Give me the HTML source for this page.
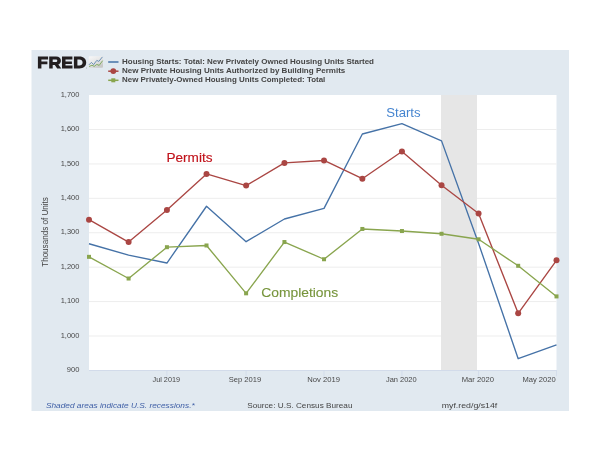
<!DOCTYPE html>
<html><head><meta charset="utf-8"><title>FRED Housing</title>
<style>
html,body{margin:0;padding:0;background:#fff;}
body{width:600px;height:450px;overflow:hidden;font-family:"Liberation Sans",sans-serif;}
svg{display:block;will-change:transform;transform:translateZ(0);}
text{font-family:"Liberation Sans",sans-serif;}
</style></head><body>
<svg width="600" height="450" viewBox="0 0 600 450">
<defs>
<linearGradient id="ig" x1="0" y1="0" x2="0.6" y2="1">
<stop offset="0" stop-color="#f8f8f8"/><stop offset="0.55" stop-color="#e6e6e6"/><stop offset="1" stop-color="#c8c8c8"/>
</linearGradient>
</defs>
<rect x="0" y="0" width="600" height="450" fill="#ffffff"/>
<rect x="31.5" y="50" width="537.5" height="361" fill="#e1e9f0"/>
<rect x="89" y="95" width="467.5" height="275.2" fill="#ffffff"/>

<line x1="89" x2="556.5" y1="335.99" y2="335.99" stroke="#ededed" stroke-width="1"/>
<line x1="89" x2="556.5" y1="301.57" y2="301.57" stroke="#ededed" stroke-width="1"/>
<line x1="89" x2="556.5" y1="267.16" y2="267.16" stroke="#ededed" stroke-width="1"/>
<line x1="89" x2="556.5" y1="232.75" y2="232.75" stroke="#ededed" stroke-width="1"/>
<line x1="89" x2="556.5" y1="198.34" y2="198.34" stroke="#ededed" stroke-width="1"/>
<line x1="89" x2="556.5" y1="163.93" y2="163.93" stroke="#ededed" stroke-width="1"/>
<line x1="89" x2="556.5" y1="129.51" y2="129.51" stroke="#ededed" stroke-width="1"/>
<rect x="441" y="95" width="36" height="275.3" fill="#e6e6e6"/>
<line x1="89" x2="556.5" y1="370.5" y2="370.5" stroke="#d2dbea" stroke-width="1"/>
<line x1="166.92" x2="166.92" y1="370" y2="376.2" stroke="#d0daea" stroke-width="0.8"/>
<line x1="246.11" x2="246.11" y1="370" y2="376.2" stroke="#d0daea" stroke-width="0.8"/>
<line x1="324.03" x2="324.03" y1="370" y2="376.2" stroke="#d0daea" stroke-width="0.8"/>
<line x1="401.94" x2="401.94" y1="370" y2="376.2" stroke="#d0daea" stroke-width="0.8"/>
<line x1="478.58" x2="478.58" y1="370" y2="376.2" stroke="#d0daea" stroke-width="0.8"/>
<line x1="556.50" x2="556.50" y1="370" y2="376.2" stroke="#d0daea" stroke-width="0.8"/>
<path d="M89.00 243.76 L128.60 255.12 L166.92 263.03 L206.51 206.25 L246.11 241.70 L284.43 218.98 L324.03 208.32 L362.35 133.99 L401.94 123.66 L441.54 140.87 L478.58 243.42 L518.18 358.70 L556.50 344.93" fill="none" stroke="#4572a7" stroke-width="1.35" stroke-linejoin="round"/>
<path d="M89.00 219.67 L128.60 242.04 L166.92 210.04 L206.51 173.90 L246.11 185.60 L284.43 162.89 L324.03 160.48 L362.35 178.72 L401.94 151.54 L441.54 185.26 L478.58 213.48 L518.18 313.28 L556.50 260.28" fill="none" stroke="#aa4643" stroke-width="1.35" stroke-linejoin="round"/>
<circle cx="89.00" cy="219.67" r="3.0" fill="#aa4643"/>
<circle cx="128.60" cy="242.04" r="3.0" fill="#aa4643"/>
<circle cx="166.92" cy="210.04" r="3.0" fill="#aa4643"/>
<circle cx="206.51" cy="173.90" r="3.0" fill="#aa4643"/>
<circle cx="246.11" cy="185.60" r="3.0" fill="#aa4643"/>
<circle cx="284.43" cy="162.89" r="3.0" fill="#aa4643"/>
<circle cx="324.03" cy="160.48" r="3.0" fill="#aa4643"/>
<circle cx="362.35" cy="178.72" r="3.0" fill="#aa4643"/>
<circle cx="401.94" cy="151.54" r="3.0" fill="#aa4643"/>
<circle cx="441.54" cy="185.26" r="3.0" fill="#aa4643"/>
<circle cx="478.58" cy="213.48" r="3.0" fill="#aa4643"/>
<circle cx="518.18" cy="313.28" r="3.0" fill="#aa4643"/>
<circle cx="556.50" cy="260.28" r="3.0" fill="#aa4643"/>
<path d="M89.00 256.84 L128.60 278.52 L166.92 247.20 L206.51 245.48 L246.11 293.32 L284.43 242.04 L324.03 259.25 L362.35 228.96 L401.94 231.03 L441.54 233.78 L478.58 239.29 L518.18 265.79 L556.50 296.41" fill="none" stroke="#89a54e" stroke-width="1.35" stroke-linejoin="round"/>
<rect x="87.00" y="254.84" width="4" height="4" fill="#89a54e"/>
<rect x="126.60" y="276.52" width="4" height="4" fill="#89a54e"/>
<rect x="164.92" y="245.20" width="4" height="4" fill="#89a54e"/>
<rect x="204.51" y="243.48" width="4" height="4" fill="#89a54e"/>
<rect x="244.11" y="291.32" width="4" height="4" fill="#89a54e"/>
<rect x="282.43" y="240.04" width="4" height="4" fill="#89a54e"/>
<rect x="322.03" y="257.25" width="4" height="4" fill="#89a54e"/>
<rect x="360.35" y="226.96" width="4" height="4" fill="#89a54e"/>
<rect x="399.94" y="229.03" width="4" height="4" fill="#89a54e"/>
<rect x="439.54" y="231.78" width="4" height="4" fill="#89a54e"/>
<rect x="476.58" y="237.29" width="4" height="4" fill="#89a54e"/>
<rect x="516.18" y="263.79" width="4" height="4" fill="#89a54e"/>
<rect x="554.50" y="294.41" width="4" height="4" fill="#89a54e"/>
<text x="79.4" y="372.10" text-anchor="end" font-size="7.6" fill="#484848" textLength="12.6" lengthAdjust="spacingAndGlyphs">900</text>
<text x="79.4" y="337.69" text-anchor="end" font-size="7.6" fill="#484848" textLength="18.7" lengthAdjust="spacingAndGlyphs">1,000</text>
<text x="79.4" y="303.27" text-anchor="end" font-size="7.6" fill="#484848" textLength="18.7" lengthAdjust="spacingAndGlyphs">1,100</text>
<text x="79.4" y="268.86" text-anchor="end" font-size="7.6" fill="#484848" textLength="18.7" lengthAdjust="spacingAndGlyphs">1,200</text>
<text x="79.4" y="234.45" text-anchor="end" font-size="7.6" fill="#484848" textLength="18.7" lengthAdjust="spacingAndGlyphs">1,300</text>
<text x="79.4" y="200.04" text-anchor="end" font-size="7.6" fill="#484848" textLength="18.7" lengthAdjust="spacingAndGlyphs">1,400</text>
<text x="79.4" y="165.62" text-anchor="end" font-size="7.6" fill="#484848" textLength="18.7" lengthAdjust="spacingAndGlyphs">1,500</text>
<text x="79.4" y="131.21" text-anchor="end" font-size="7.6" fill="#484848" textLength="18.7" lengthAdjust="spacingAndGlyphs">1,600</text>
<text x="79.4" y="96.80" text-anchor="end" font-size="7.6" fill="#484848" textLength="18.7" lengthAdjust="spacingAndGlyphs">1,700</text>
<text transform="translate(48.2 232) rotate(-90)" text-anchor="middle" font-size="8.2" fill="#444444" textLength="69.6" lengthAdjust="spacingAndGlyphs">Thousands of Units</text>
<text x="166.30" y="382.3" text-anchor="middle" font-size="7.2" fill="#484848" textLength="27.5" lengthAdjust="spacingAndGlyphs">Jul 2019</text>
<text x="245.00" y="382.3" text-anchor="middle" font-size="7.2" fill="#484848" textLength="32.5" lengthAdjust="spacingAndGlyphs">Sep 2019</text>
<text x="323.60" y="382.3" text-anchor="middle" font-size="7.2" fill="#484848" textLength="32.8" lengthAdjust="spacingAndGlyphs">Nov 2019</text>
<text x="401.30" y="382.3" text-anchor="middle" font-size="7.2" fill="#484848" textLength="30.7" lengthAdjust="spacingAndGlyphs">Jan 2020</text>
<text x="477.80" y="382.3" text-anchor="middle" font-size="7.2" fill="#484848" textLength="32.3" lengthAdjust="spacingAndGlyphs">Mar 2020</text>
<text x="555.7" y="382.3" text-anchor="end" font-size="7.2" fill="#484848" textLength="33.3" lengthAdjust="spacingAndGlyphs">May 2020</text>
<text x="45.9" y="408.2" font-size="7.9" font-style="italic" fill="#3f5fa6" textLength="148.8" lengthAdjust="spacingAndGlyphs">Shaded areas indicate U.S. recessions.*</text>
<text x="247.2" y="408.1" font-size="7.9" fill="#444444" textLength="105.3" lengthAdjust="spacingAndGlyphs">Source: U.S. Census Bureau</text>
<text x="441.7" y="408.1" font-size="7.9" fill="#444444" textLength="55.6" lengthAdjust="spacingAndGlyphs">myf.red/g/s14f</text>
<line x1="108.2" x2="118.5" y1="62" y2="62" stroke="#4572a7" stroke-width="1.5"/>
<line x1="108.2" x2="118.5" y1="71.2" y2="71.2" stroke="#aa4643" stroke-width="1.5"/>
<circle cx="113.3" cy="71.1" r="2.9" fill="#aa4643"/>
<line x1="108.2" x2="118.5" y1="80.3" y2="80.3" stroke="#89a54e" stroke-width="1.5"/>
<rect x="111.3" y="78.3" width="4" height="4" fill="#89a54e"/>
<text x="122" y="64.4" font-size="7.8" font-weight="bold" fill="#454545" textLength="252.0" lengthAdjust="spacingAndGlyphs">Housing Starts: Total: New Privately Owned Housing Units Started</text>
<text x="122" y="73.3" font-size="7.8" font-weight="bold" fill="#454545" textLength="223.3" lengthAdjust="spacingAndGlyphs">New Private Housing Units Authorized by Building Permits</text>
<text x="122" y="82.3" font-size="7.8" font-weight="bold" fill="#454545" textLength="203.3" lengthAdjust="spacingAndGlyphs">New Privately-Owned Housing Units Completed: Total</text>
<g fill="#231f20">
<path d="M37.9 56.6 H48.1 V59.6 H41.4 V61.6 H47.4 V64.3 H41.4 V68.4 H37.9 Z"/>
<path fill-rule="evenodd" d="M49.2 56.6 H56.1 C59.3 56.6 60.9 58.3 60.9 60.7 C60.9 62.6 59.9 63.8 58.3 64.4 L61.3 68.4 H57.2 L54.8 64.9 H52.7 V68.4 H49.2 Z M52.7 59.6 V62 H55.6 C56.7 62 57.3 61.6 57.3 60.8 C57.3 60 56.7 59.6 55.6 59.6 Z"/>
<path d="M62 56.6 H72.4 V59.6 H65.5 V61.4 H71.9 V64 H65.5 V65.6 H72.5 V68.4 H62 Z"/>
<path fill-rule="evenodd" d="M73.9 56.6 H79.4 C83.6 56.6 86.2 59 86.2 62.5 C86.2 66 83.6 68.4 79.4 68.4 H73.9 Z M77.4 59.6 V65.5 H79.3 C81.2 65.5 82.6 64.4 82.6 62.5 C82.6 60.7 81.2 59.6 79.3 59.6 Z"/>
</g>
<circle cx="86.6" cy="68" r="0.4" fill="#777"/>
<rect x="88.8" y="56.2" width="14.2" height="11.6" rx="1" fill="url(#ig)"/>
<path d="M89.2 64.6 L91.4 62.4 L93.6 64.6 L96.8 60.4 L98.8 61.4 L102.2 57.2" fill="none" stroke="#5682ad" stroke-width="0.85" stroke-linejoin="round" stroke-linecap="round"/>
<path d="M89.4 66.4 L92 65.2 L94.2 66.4 L96.8 64.4 L99.2 65.4 L102.4 61" fill="none" stroke="#74a44e" stroke-width="0.85" stroke-linejoin="round" stroke-linecap="round"/>
<text x="386.2" y="117.4" font-size="13.4" fill="#4685d0" textLength="34.4" lengthAdjust="spacingAndGlyphs">Starts</text>
<text x="166.5" y="161.8" font-size="13.7" fill="#c0121a" stroke="#c0121a" stroke-width="0.15" textLength="46" lengthAdjust="spacingAndGlyphs">Permits</text>
<text x="261.2" y="296.8" font-size="13.5" fill="#77953c" stroke="#77953c" stroke-width="0.12" textLength="77" lengthAdjust="spacingAndGlyphs">Completions</text>
</svg></body></html>
